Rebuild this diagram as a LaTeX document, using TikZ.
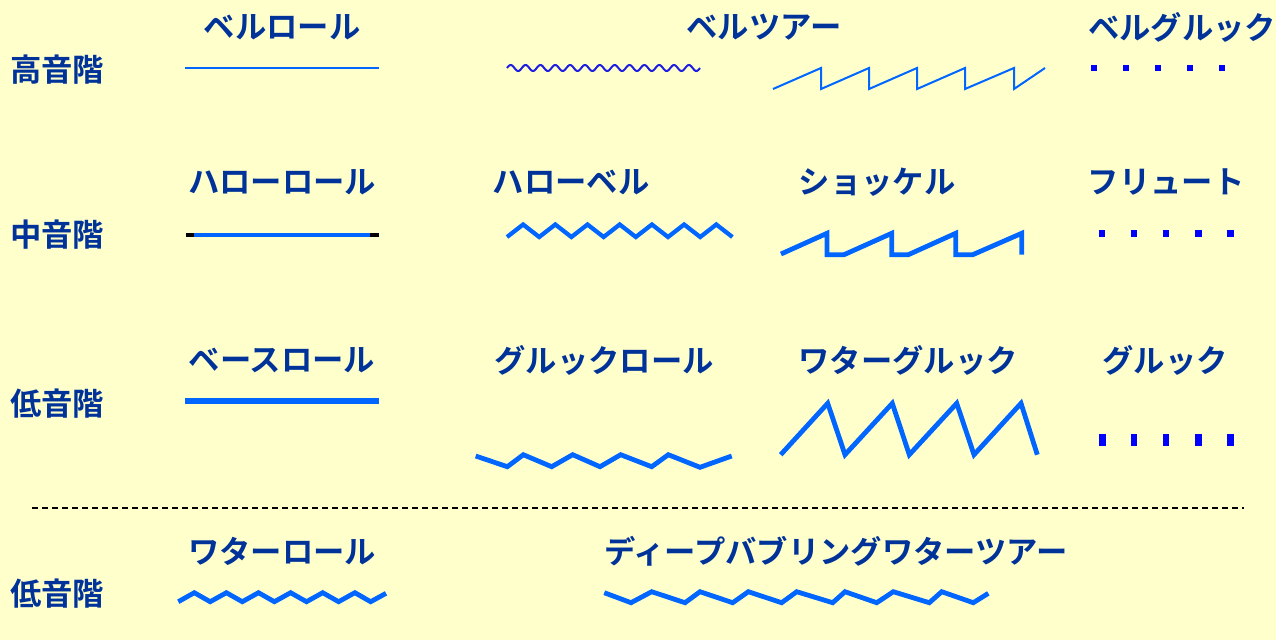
\documentclass[tikz,border=0pt]{standalone}
\usepackage{fontspec}
\setmainfont{Noto Sans CJK JP}[BoldFont={* Bold}]
\usepackage{tikz}

\definecolor{bgyellow}{RGB}{255,255,204}
\definecolor{labelblue}{RGB}{0,51,153}
\definecolor{lineblue}{RGB}{0,102,255}
\definecolor{dotblue}{RGB}{0,0,255}
\definecolor{waveblue}{RGB}{30,30,225}

\begin{document}
\begin{tikzpicture}[
        x=0.75pt, y=-0.75pt,
        font=\bfseries\fontsize{23.5}{28}\selectfont,
        lab/.style={text=labelblue, inner sep=0pt, anchor=center},
        thinln/.style={draw=lineblue, line width=1.5pt, line join=miter},
        thickln/.style={draw=lineblue, line width=3.6pt, line join=miter},
        dotsq/.style={fill=dotblue}
      ]
        \useasboundingbox[fill=bgyellow] (0,0) rectangle (1276,640);
        % row names
        \node[lab] (high) at (57,70) {高音階};
        \node[lab] (mid) at (57,235) {中音階};
        \node[lab] (low) at (57,404) {低音階};
        \node[lab] (lowb) at (57,594) {低音階};
        % top row
        \node[lab] (bellroll) at (282,27) {ベルロール};
        \node[lab] (belltour) at (764,27) {ベルツアー};
        \node[lab] (bellgluck) at (1182,27) {ベルグルック};
        \draw[thinln] (185,68) -- (379,68);
        \draw[draw=waveblue, line width=1.5pt]
          plot[domain=0:193, samples=260, smooth] ({507+\x}, {68-3*sin(\x/14.85*360)});
        \draw[thinln] (773,89) -- (821,68) -- (821,89) -- (869,68) -- (869,89)
          -- (917,68) -- (917,89) -- (965,68) -- (965,89) -- (1014,68)
          -- (1014,89) -- (1045,68);
        \foreach \px in {1094,1126,1158,1190,1222}
          \fill[dotsq] (\px-2.8,65.2) rectangle (\px+2.8,70.8);
        % middle row
        \node[lab] (haloroll) at (282,182) {ハローロール};
        \node[lab] (halobell) at (571,182) {ハローベル};
        \node[lab] (shockel) at (877,182) {ショッケル};
        \node[lab] (flute) at (1166,182) {フリュート};
        \draw[draw=black, line width=3pt] (186,235) -- (379,235);
        \draw[draw=lineblue, line width=3pt] (194,235) -- (370,235);
        \draw[thickln, line width=3.2pt] (507,237) \foreach \k in {0,...,6}
          { -- ({507+16.1+32.2*\k},224.5) -- ({507+32.2*(\k+1)},237) };
        \draw[thickln] (781,254) -- (827,233.3) -- (827,254.7) -- (844,254.7)
          -- (891.7,233.3) -- (891.7,254.7) -- (908.3,254.7) -- (955.7,233.3)
          -- (955.7,254.7) -- (972.7,254.7) -- (1021.7,233.3) -- (1021.7,254.7);
        \foreach \px in {1101.7,1133.7,1166,1198.3,1230.3}
          \fill[dotsq] (\px-3.2,230.1) rectangle (\px+3.2,236.5);
        % low row
        \node[lab] (bassroll) at (282,360) {ベースロール};
        \node[lab] (gluckroll) at (604,360) {グルックロール};
        \node[lab] (watergluck) at (908,360) {ワターグルック};
        \node[lab] (gluck) at (1165,360) {グルック};
        \draw[thickln, line width=3.8pt] (185,401) -- (379,401);
        \draw[thickln] (475.7,456) -- (507.3,466.7) -- (523.3,454.7) -- (551.7,466.7)
          -- (572.7,454.7) -- (600,466.7) -- (620.7,454.7) -- (651.7,466.7)
          -- (668.3,454.7) -- (700,467.3) -- (731.7,456);
        \draw[thickln] (780.7,454.7) -- (827.7,403.3) -- (845,454.7) -- (892.3,403.3)
          -- (909.3,454.7) -- (956.7,403.3) -- (974,454.7) -- (1021,403.3)
          -- (1037.3,454.7);
        \foreach \px in {1102.3,1134,1166,1198.3,1230.3}
          \fill[dotsq] (\px-3.3,434) rectangle (\px+3.3,446);
        % divider
        \draw[black, line width=0.8pt, dash pattern=on 4.5pt off 3pt] (32,508) -- (1244,508);
        % bottom row
        \node[lab] (waterroll) at (282,551) {ワターロール};
        \node[lab] (deepbubble) at (836,551) {ディープバブリングワターツアー};
        \draw[thickln] (178.3,601.7) \foreach \k in {0,...,5}
          { -- ({194.3+32.1*\k},592.7) -- ({210.2+32.1*\k},601.7) }
          -- (355,592.7) -- (370.7,601.7) -- (386,593.3);
        \draw[thickln] (604.3,592.7) -- (631,602.7) -- (651.7,591.7) -- (685,602.7)
          -- (700,591.7) -- (732.7,602.7) -- (748.3,591.7) -- (781.7,602.7)
          -- (796.7,591.7) -- (832.7,602.7) -- (845,591.7) -- (876.7,602.7)
          -- (893.3,591.7) -- (929.3,602.7) -- (941.7,591.7) -- (973.3,602.7)
          -- (988.3,593.3);
      \end{tikzpicture}
\end{document}
